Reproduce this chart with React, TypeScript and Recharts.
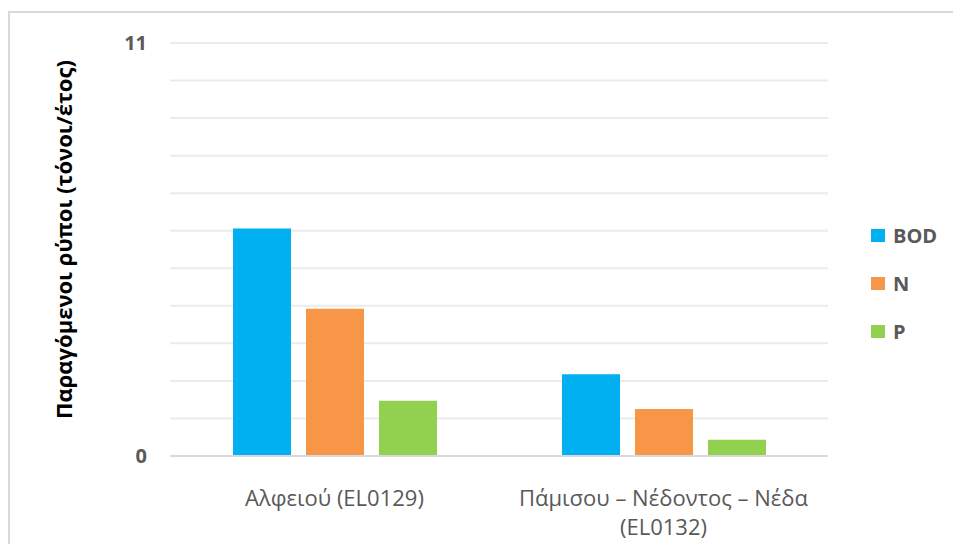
import React from "react";
import {
  Bar,
  BarChart,
  CartesianGrid,
  Legend,
  XAxis,
  YAxis,
} from "recharts";

const categories = ["Αλφειού (EL0129)", "Πάμισου – Νέδοντος – Νέδα (EL0132)"];
const bodValues = [6.06, 2.18];
const nValues = [3.92, 1.25];
const pValues = [1.47, 0.43];
const yTicks = [0, 1, 2, 3, 4, 5, 6, 7, 8, 9, 10, 11];
const yTickLabels = [0, 11];
const yTitle = "Παραγόμενοι ρύποι (τόνοι/έτος)";

const SERIES = [
  { key: "BOD", color: "#00b0f0" },
  { key: "N", color: "#f79646" },
  { key: "P", color: "#92d050" },
];

const data = categories.map((name, i) => ({
  name,
  BOD: bodValues[i],
  N: nValues[i],
  P: pValues[i],
}));

const FONT = "'Open Sans', 'Noto Sans', sans-serif";
const GREY = "#595959";

function XTick({ x, y, payload }: any) {
  const label: string = payload.value;
  // long names break before the code in brackets
  const lines = label.length > 20 ? label.split(/ (?=\()/) : [label];
  return (
    <g>
      {lines.map((line, i) => (
        <text
          key={i}
          x={x}
          y={y + 42 + i * 29}
          textAnchor="middle"
          fontFamily={FONT}
          fontSize={22}
          fill={GREY}
        >
          {line}
        </text>
      ))}
    </g>
  );
}

function YTick({ x, y, payload }: any) {
  if (!yTickLabels.includes(payload.value)) return null;
  return (
    <text
      x={x}
      y={y}
      dy="0.36em"
      textAnchor="end"
      fontFamily={FONT}
      fontSize={20}
      fontWeight="bold"
      fill={GREY}
    >
      {payload.value}
    </text>
  );
}

function YTitle({ viewBox }: any) {
  const cx = viewBox.x - 47;
  const cy = viewBox.y + viewBox.height / 2 - 10;
  return (
    <text
      x={cx}
      y={cy}
      transform={`rotate(-90, ${cx}, ${cy})`}
      textAnchor="middle"
      dominantBaseline="central"
      fontFamily={FONT}
      fontSize={22}
      fontWeight="bold"
      fill="#000"
    >
      {yTitle}
    </text>
  );
}

function LegendBox() {
  return (
    <div style={{ fontFamily: FONT }}>
      {SERIES.map((s) => (
        <div
          key={s.key}
          style={{ display: "flex", alignItems: "center", height: 48 }}
        >
          <span
            style={{
              width: 14,
              height: 13,
              background: s.color,
              display: "inline-block",
              marginRight: 8,
            }}
          />
          <span style={{ fontSize: 20, fontWeight: "bold", color: GREY }}>
            {s.key}
          </span>
        </div>
      ))}
    </div>
  );
}

export default function App() {
  return (
    <div
      style={{
        position: "relative",
        width: 953,
        height: 544,
        overflow: "hidden",
        background: "#fff",
      }}
    >
      <style>{`html, body { margin: 0; padding: 0; overflow: hidden; }`}</style>
      <div
        style={{
          position: "absolute",
          left: 8,
          top: 11,
          width: 945,
          height: 533,
          borderTop: "2px solid #d9d9d9",
          borderLeft: "2px solid #d9d9d9",
          boxSizing: "border-box",
        }}
      />
      <div style={{ position: "absolute", left: 8, top: 8 }}>
        <BarChart
          width={945}
          height={536}
          data={data}
          margin={{ top: 35, right: 125, left: 102, bottom: 28 }}
          barSize={58}
          barGap={15}
        >
          <CartesianGrid
            vertical={false}
            stroke="#ebebeb"
            strokeWidth={2}
          />
          <XAxis
            dataKey="name"
            height={60}
            tickLine={false}
            axisLine={{ stroke: "#d9d9d9", strokeWidth: 2 }}
            tick={<XTick />}
            interval={0}
          />
          <YAxis
            width={60}
            domain={[0, 11]}
            ticks={yTicks}
            interval={0}
            axisLine={false}
            tickLine={false}
            tickSize={0}
            tickMargin={23}
            tick={<YTick />}
            label={<YTitle />}
          />
          <Legend
            layout="vertical"
            align="center"
            verticalAlign="middle"
            content={<LegendBox />}
            wrapperStyle={{ left: 863, top: 203, width: 80 }}
          />
          {SERIES.map((s) => (
            <Bar
              key={s.key}
              dataKey={s.key}
              fill={s.color}
              isAnimationActive={false}
            />
          ))}
        </BarChart>
      </div>
    </div>
  );
}
